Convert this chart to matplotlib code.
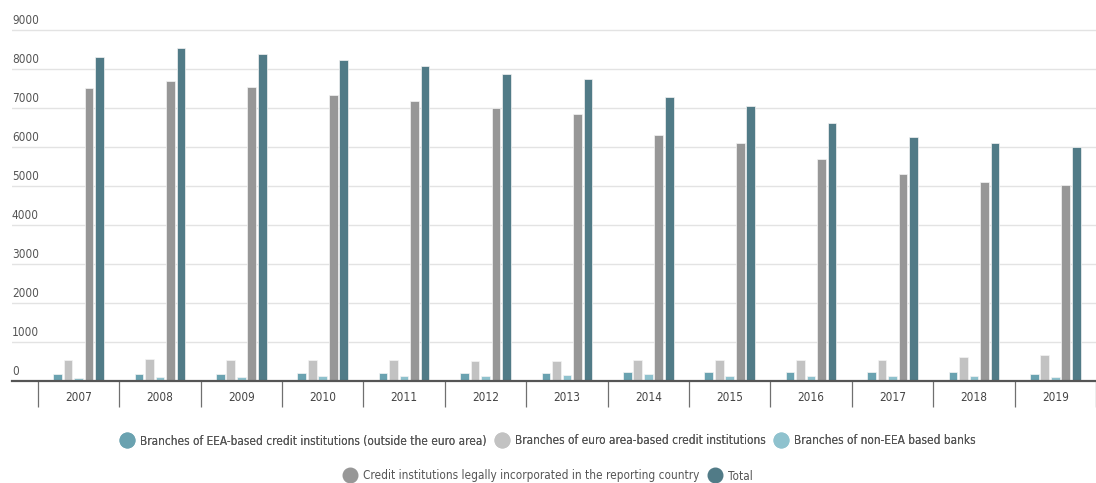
import matplotlib.pyplot as plt
import matplotlib.transforms as mtransforms
from matplotlib.lines import Line2D
import numpy as np

plt.rcParams['font.family'] = ['DejaVu Sans']
plt.rcParams['font.stretch'] = 'condensed'

# number of credit institutions per year
years = ['2007', '2008', '2009', '2010', '2011', '2012', '2013',
         '2014', '2015', '2016', '2017', '2018', '2019']
eea_branches = [184, 192, 192, 210, 210, 210, 205, 236, 228, 228, 218, 218, 167]
euro_area_branches = [526, 559, 543, 533, 533, 508, 520, 526, 543, 526, 551, 603, 654]
non_eea_branches = [82, 90, 90, 133, 133, 141, 150, 167, 141, 133, 133, 125, 108]
domestic = [7508, 7697, 7543, 7338, 7175, 6995, 6851, 6320, 6115, 5687, 5313, 5115, 5038]
total = [8313, 8544, 8390, 8218, 8082, 7877, 7740, 7277, 7056, 6610, 6269, 6097, 5995]

series = [
    ('Branches of EEA-based credit institutions (outside the euro area)', eea_branches, '#6aa2b0'),
    ('Branches of euro area-based credit institutions', euro_area_branches, '#c2c2c2'),
    ('Branches of non-EEA based banks', non_eea_branches, '#8fc2ce'),
    ('Credit institutions legally incorporated in the reporting country', domestic, '#979797'),
    ('Total', total, '#517b87'),
]
yticks = [0, 1000, 2000, 3000, 4000, 5000, 6000, 7000, 8000, 9000]

W, H = 1096, 483
fig = plt.figure(figsize=(W / 100, H / 100), dpi=100)
ax = fig.add_axes([12 / W, 1 - 381 / H, (W - 12) / W, 381 / H])

x = np.arange(len(years))
step = 0.129
width = 0.106
for k, (name, vals, col) in enumerate(series):
    ax.bar(x + (k - 2) * step, vals, width, color=col, edgecolor='#f4f4f4',
           linewidth=0.5, zorder=3)

ax.set_xlim(-0.817, 12.40)
ax.set_ylim(0, 9769)

# grid lines with labels sitting just above them
ax.set_yticks(yticks)
ax.set_yticklabels([])
ax.tick_params(axis='y', length=0)
ax.grid(axis='y', color='#e3e3e3', linewidth=1, zorder=0)
trans = mtransforms.offset_copy(ax.get_yaxis_transform(), fig=fig, x=0, y=2, units='points')
for v in yticks:
    ax.text(0, v, str(v), transform=trans, ha='left', va='bottom',
            fontsize=8.5, color='#555555')

# category labels and separators
ax.set_xticks(x)
ax.set_xticklabels(years, fontsize=8.5, color='#444444')
ax.tick_params(axis='x', which='major', length=0, pad=7)
ax.set_xticks(np.arange(len(years) + 1) - 0.5, minor=True)
ax.tick_params(axis='x', which='minor', length=19, width=0.9, color='#707070')

for s in ['top', 'right', 'left']:
    ax.spines[s].set_visible(False)
ax.spines['bottom'].set_color('#555555')
ax.spines['bottom'].set_linewidth(1.6)
ax.spines['bottom'].set_zorder(4)

handles = [Line2D([], [], marker='o', linestyle='', markersize=10.5,
                  markerfacecolor=col, markeredgecolor=col, label=name)
           for name, vals, col in series]
leg_kw = dict(loc='center', frameon=False, fontsize=8.5, labelcolor='#555555',
              handletextpad=0.5, columnspacing=0.7, handlelength=1.2)
leg1 = fig.legend(handles=handles[:3], ncol=3,
                  bbox_to_anchor=(0.5, 1 - 441 / H), **leg_kw)
leg2 = fig.legend(handles=handles[3:], ncol=2,
                  bbox_to_anchor=(0.5, 1 - 476 / H), **leg_kw)
fig.add_artist(leg1)

fig.savefig('out.png', dpi=100)
